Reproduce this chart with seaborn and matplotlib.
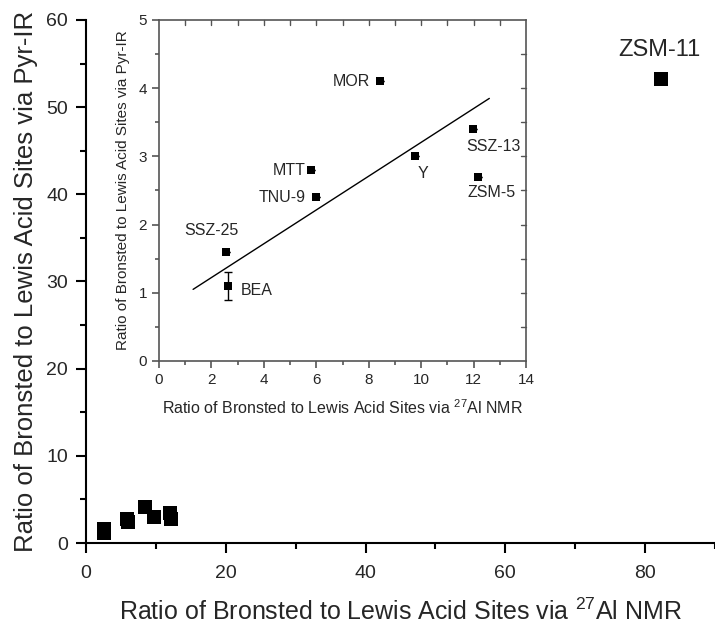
import numpy as np
import pandas as pd
import matplotlib
matplotlib.use("Agg")
import matplotlib.pyplot as plt
from matplotlib.ticker import MultipleLocator
import seaborn as sns

# ---- data ----
zeolites = ["BEA", "SSZ-25", "TNU-9", "MTT", "MOR", "Y", "SSZ-13", "ZSM-5", "ZSM-11"]
nmr_ratio = [2.63, 2.57, 5.97, 5.81, 8.43, 9.77, 11.98, 12.16, 82.3]
ir_ratio = [1.10, 1.60, 2.40, 2.80, 4.10, 3.00, 3.40, 2.70, 53.2]
ir_err = [0.20, 0, 0, 0, 0, 0, 0, 0, 0]
trend_x = [1.3, 12.6]
trend_y = [1.05, 3.85]

xlabel_main = "Ratio of Bronsted to Lewis Acid Sites via $^{27}$Al NMR"
ylabel_main = "Ratio of Bronsted to Lewis Acid Sites via Pyr-IR"

df = pd.DataFrame({"name": zeolites, "nmr": nmr_ratio, "ir": ir_ratio, "err": ir_err})
df_in = df[df["name"] != "ZSM-11"]

sns.set_theme(style="ticks")
plt.rcParams["font.family"] = ["Liberation Sans", "DejaVu Sans"]
plt.rcParams["mathtext.fontset"] = "custom"
plt.rcParams["mathtext.rm"] = "Liberation Sans"
plt.rcParams["mathtext.it"] = "Liberation Sans:italic"
plt.rcParams["mathtext.bf"] = "Liberation Sans:bold"

fig = plt.figure(figsize=(7.15, 6.24), dpi=100)
ax = fig.add_axes([0.1203, 0.1298, 0.8797, 0.8382])

sns.scatterplot(data=df, x="nmr", y="ir", marker="s", s=95, color="black",
                edgecolor="black", linewidth=0, ax=ax, legend=False)
ax.set_xlim(0, 90)
ax.set_ylim(0, 60)
ax.xaxis.set_major_locator(MultipleLocator(20))
ax.xaxis.set_minor_locator(MultipleLocator(10))
ax.yaxis.set_major_locator(MultipleLocator(10))
ax.yaxis.set_minor_locator(MultipleLocator(5))
for s in ["top", "right"]:
    ax.spines[s].set_visible(False)
for s in ["left", "bottom"]:
    ax.spines[s].set_linewidth(1.5)
    ax.spines[s].set_color("black")
ax.tick_params(which="major", direction="out", length=7, width=1.5, labelsize=14, color="black")
ax.tick_params(which="minor", direction="out", length=4, width=1.5, color="black")
ax.tick_params(axis="x", which="major", pad=9)
ax.tick_params(axis="y", which="major", pad=6)
ax.set_xlabel(xlabel_main, fontsize=18, labelpad=12)
ax.set_ylabel(ylabel_main, fontsize=18.5, labelpad=6)
ax.text(82.1, 56.6, "ZSM-11", fontsize=17, ha="center", va="center")

# ---- inset ----
ins = fig.add_axes([0.2224, 0.4215, 0.5133, 0.5465])
ins.patch.set_alpha(0)
sns.scatterplot(data=df_in, x="nmr", y="ir", marker="s", s=32, color="black",
                edgecolor="black", linewidth=0, ax=ins, legend=False, zorder=3)
ins.errorbar(df_in["nmr"], df_in["ir"], yerr=df_in["err"], fmt="none",
             ecolor="black", elinewidth=1, capsize=3, capthick=1)
sns.lineplot(x=trend_x, y=trend_y, color="black", linewidth=1, ax=ins)
ins.set_xlim(0, 14)
ins.set_ylim(0, 5)
ins.xaxis.set_major_locator(MultipleLocator(2))
ins.xaxis.set_minor_locator(MultipleLocator(1))
ins.yaxis.set_major_locator(MultipleLocator(1))
ins.yaxis.set_minor_locator(MultipleLocator(0.5))
gray = "#555555"
for s in ins.spines.values():
    s.set_color(gray)
    s.set_linewidth(1.2)
ins.tick_params(which="both", direction="out", color=gray, width=1.2, labelsize=11,
                top=False, right=False)
ins.tick_params(which="major", length=5)
ins.tick_params(which="minor", length=3)
for xv in np.arange(1, 14, 1):
    ins.plot([xv, xv], [5, 5 - 0.08], color=gray, lw=1.0, clip_on=False)
for yv in np.arange(0.5, 5, 0.5):
    ins.plot([14, 14 - 0.2], [yv, yv], color=gray, lw=1.0, clip_on=False)
ins.set_xlabel(xlabel_main, fontsize=11.5, labelpad=8)
ins.set_ylabel(ylabel_main, fontsize=11, labelpad=6)

label_pos = {"MOR": (8.05, 4.1, "right"), "SSZ-13": (12.75, 3.15, "center"),
             "Y": (10.06, 2.75, "center"), "MTT": (5.6, 2.8, "right"),
             "ZSM-5": (12.7, 2.47, "center"), "TNU-9": (5.61, 2.4, "right"),
             "SSZ-25": (2.01, 1.92, "center"), "BEA": (3.12, 1.03, "left")}
for name, (tx, ty, ha) in label_pos.items():
    ins.text(tx, ty, name, fontsize=11.5, ha=ha, va="center")

fig.savefig("out.png", dpi=100)
